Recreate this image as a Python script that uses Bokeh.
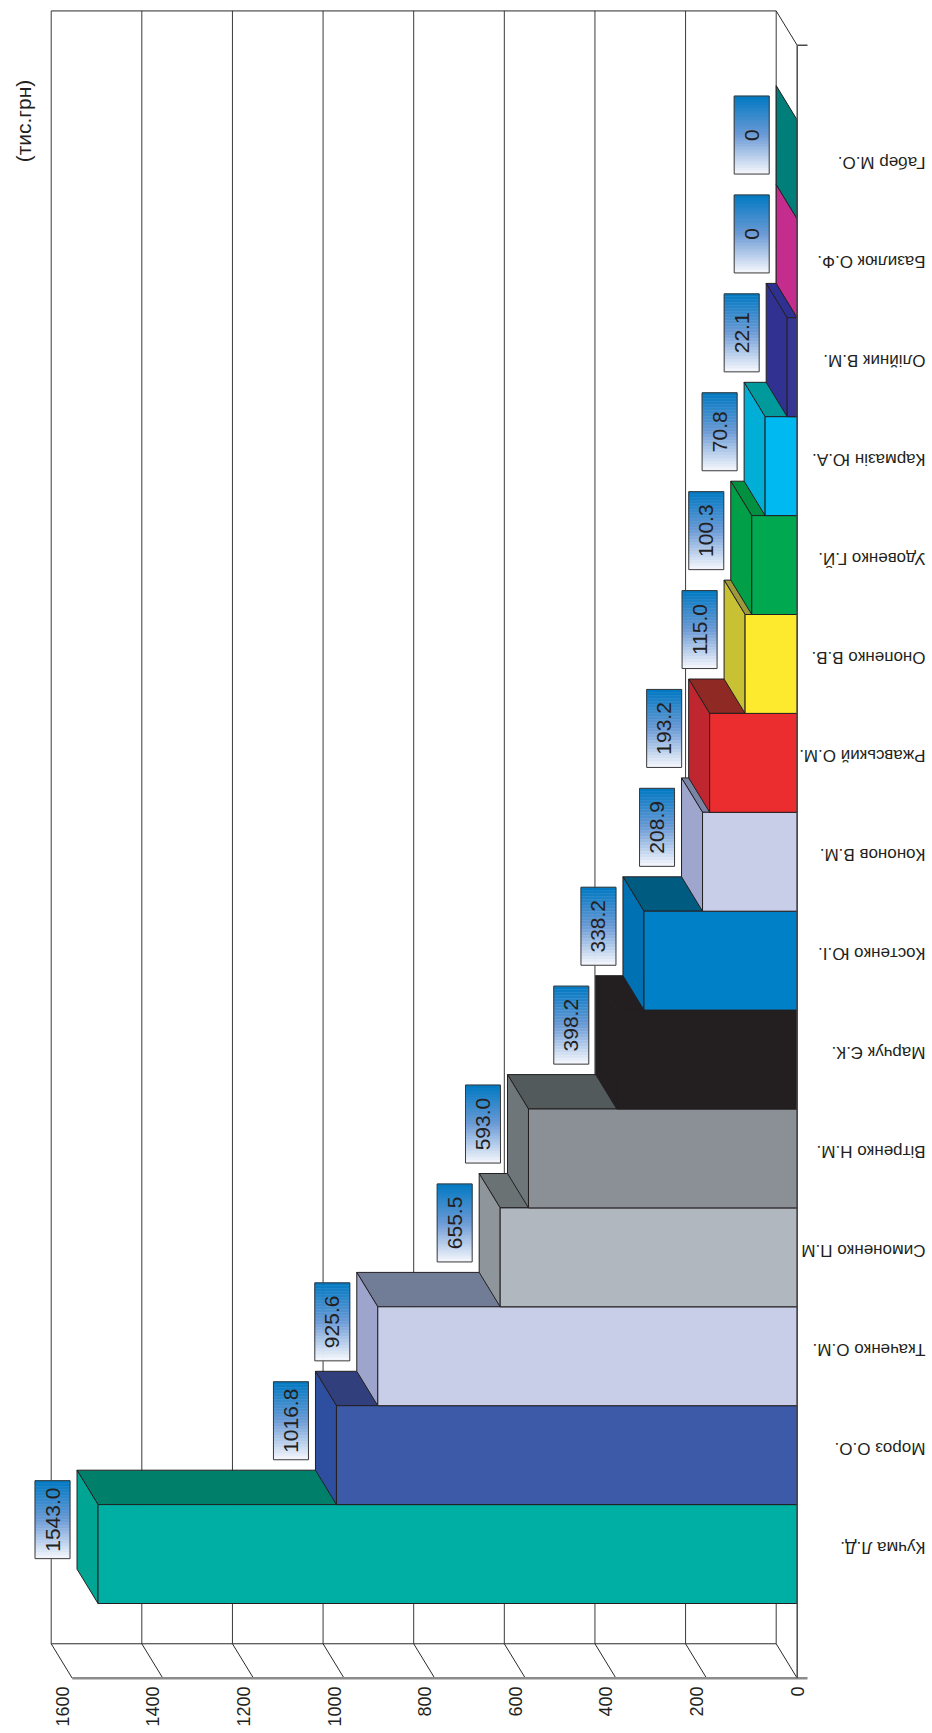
import math
from bokeh.plotting import figure
from bokeh.models import Range1d
from bokeh.embed import file_html
from bokeh.resources import INLINE
from bokeh.core.properties import value

# ---------------- data ----------------
candidates = ["Кучма Л.Д.", "Мороз О.О.", "Ткаченко О.М.", "Симоненко П.М",
              "Вітренко Н.М.", "Марчук Є.К.", "Костенко Ю.І.", "Кононов В.М.",
              "Ржавський О.М.", "Онопенко В.В.", "Удовенко Г.Й.", "Кармазін Ю.А.",
              "Олійник В.М.", "Базилюк О.Ф.", "Габер М.О."]
amounts = [1543.0, 1016.8, 925.6, 655.5, 593.0, 398.2, 338.2, 208.9,
           193.2, 115.0, 100.3, 70.8, 22.1, 0.0, 0.0]
amount_labels = ["1543.0", "1016.8", "925.6", "655.5", "593.0", "398.2", "338.2",
                 "208.9", "193.2", "115.0", "100.3", "70.8", "22.1", "0", "0"]
tick_values = [0, 200, 400, 600, 800, 1000, 1200, 1400, 1600]
tick_labels = ["0", "200", "400", "600", "800", "1000", "1200", "1400", "1600"]
unit_label = "(тис.грн)"

front_colors = ["#00AFA4", "#3C5AA8", "#C8CDE8", "#B1B7BF", "#8A9096", "#231F20",
                "#0080C6", "#C8CDE8", "#EC2D2F", "#FDE92D", "#00A94F", "#00B9F0",
                "#363795", "#C42C8E", "#007F7A"]
end_colors = ["#00A693", "#2E4FA0", "#9DA5CC", "#8E969B", "#6F767A", "#231F20",
              "#0071B3", "#9EA6CD", "#BF2630", "#C9C134", "#009F48", "#00AED6",
              "#303190", "#C42C8E", "#007F7A"]
side_colors = ["#00806A", "#313F7C", "#717C96", "#6B7274", "#525A5B", "#231F20",
               "#005B80", "#7A84A6", "#8E2923", "#9D9A3B", "#00903F", "#009A9C",
               "#2E3192", "#C42C8E", "#007F7A"]

# ---------------- layout (pixels -> data scales) ----------------
W, H = 932, 1733
PX = 0.453125          # pixels per value unit
BAND = 98.9            # pixels per category
X0 = 796.7             # x of value 0 (front plane)
Y0 = 1603.0            # y (from top) of first category bottom
DX = 21.0 / PX         # depth offset in value units
DY = 34.4 / BAND       # depth offset in category units
LO, HI = -0.755, len(candidates) - 1 + 1.755
VMAX = tick_values[-1]

p = figure(width=W, height=H,
           x_range=Range1d(X0 / PX, (X0 - W) / PX),
           y_range=Range1d((Y0 - H) / BAND, Y0 / BAND),
           x_axis_location=None, y_axis_location=None,
           output_backend="svg", toolbar_location=None, min_border=0)
p.grid.visible = False
p.outline_line_color = None
p.background_fill_color = "white"
p.border_fill_color = "white"

FONT = value("Liberation Sans")
INK = "#231F20"

# back wall
p.patch([DX, VMAX + DX, VMAX + DX, DX], [LO + DY, LO + DY, HI + DY, HI + DY],
        fill_color="white", line_color=None)
p.segment(x0=[t + DX for t in tick_values], y0=[LO + DY] * len(tick_values),
          x1=[t + DX for t in tick_values], y1=[HI + DY] * len(tick_values),
          line_color="#3A3A3A", line_width=1)
p.segment(x0=[DX, DX], y0=[HI + DY, LO + DY], x1=[VMAX + DX, VMAX + DX],
          y1=[HI + DY, LO + DY], line_color="#2A2A2A", line_width=1)
# side wall (bottom strip) slants
p.segment(x0=[t + DX for t in tick_values], y0=[LO + DY] * len(tick_values),
          x1=tick_values, y1=[LO] * len(tick_values), line_color="#2A2A2A", line_width=1)
# floor (right strip) top slant
p.segment(x0=[DX], y0=[HI + DY], x1=[0], y1=[HI], line_color="#2A2A2A", line_width=1)

# bars
xs, ys, fills = [], [], []
for i, v in enumerate(amounts):
    if v > 0:
        xs.append([v, 0, DX, v + DX]); ys.append([i + 1, i + 1, i + 1 + DY, i + 1 + DY])
        fills.append(side_colors[i])
    xs.append([v, v, v + DX, v + DX]); ys.append([i, i + 1, i + 1 + DY, i + DY])
    fills.append(end_colors[i])
    if v > 0:
        xs.append([v, 0, 0, v]); ys.append([i, i, i + 1, i + 1])
        fills.append(front_colors[i])
p.patches(xs, ys, fill_color=fills, line_color=INK, line_width=1, line_join="miter")

# front axis lines
p.segment(x0=[VMAX], y0=[LO], x1=[-10.3 / PX], y1=[LO], line_color="#8C8C8C", line_width=2.5)
p.segment(x0=[0, 0], y0=[LO, HI], x1=[0, -10.3 / PX], y1=[HI, HI],
          line_color="#4A4A4A", line_width=1.5)

# value label boxes with gradient
def lerp(c1, c2, t):
    return "#%02X%02X%02X" % tuple(int(round(a + (b - a) * t)) for a, b in zip(c1, c2))

stops = [(0.0, (0, 121, 194)), (0.5, (107, 154, 213)), (1.0, (246, 248, 253))]
def grad(t):
    for (t0, c0), (t1, c1) in zip(stops[:-1], stops[1:]):
        if t <= t1:
            return lerp(c0, c1, (t - t0) / (t1 - t0))
    return lerp(stops[-1][1], stops[-1][1], 0)

NS = 26
box_w = 35.0 / PX
box_h = 78.0 / BAND
gap = 7.0 / PX
bl, br, bt, bb, bc = [], [], [], [], []
cx, cy = [], []
for i, v in enumerate(amounts):
    right = v + DX + gap
    left = right + box_w
    ymid = i + 0.5 + DY
    top = ymid + box_h / 2
    cx.append((left + right) / 2); cy.append(ymid)
    for k in range(NS):
        bl.append(left); br.append(right)
        bt.append(top - box_h * k / NS); bb.append(top - box_h * (k + 1) / NS)
        bc.append(grad((k + 0.5) / NS))
p.quad(left=bl, right=br, top=bt, bottom=bb, fill_color=bc, line_color=bc, line_width=0.6)
p.quad(left=[x + box_w / 2 for x in cx], right=[x - box_w / 2 for x in cx],
       top=[y + box_h / 2 for y in cy], bottom=[y - box_h / 2 for y in cy],
       fill_color=None, line_color="#3A3A3A", line_width=1)
p.text(x=cx, y=cy, text=amount_labels, angle=math.pi / 2, text_align="center",
       text_baseline="middle", text_font=FONT, text_font_size="21px", text_color=INK)

# category labels (rotated 180 degrees)
p.text(x=[(X0 - 925) / PX] * len(candidates), y=[i + 0.57 for i in range(len(candidates))],
       text=candidates, angle=math.pi, text_align="left", text_baseline="middle",
       text_font=FONT, text_font_size="17px", text_color=INK)

# value tick labels
p.text(x=tick_values, y=[(Y0 - 1686.0) / BAND] * len(tick_values), text=tick_labels,
       x_offset=[0 if t == 0 else -10 for t in tick_values],
       angle=math.pi / 2, text_align="right", text_baseline="middle",
       text_font=FONT, text_font_size="18px", text_color=INK)

# unit label
p.text(x=[(X0 - 22.5) / PX], y=[(Y0 - 120.5) / BAND], text=[unit_label],
       angle=math.pi / 2, text_align="center", text_baseline="middle",
       text_font=FONT, text_font_size="21px", text_color=INK)

open("out.html", "w").write(file_html(p, INLINE))
